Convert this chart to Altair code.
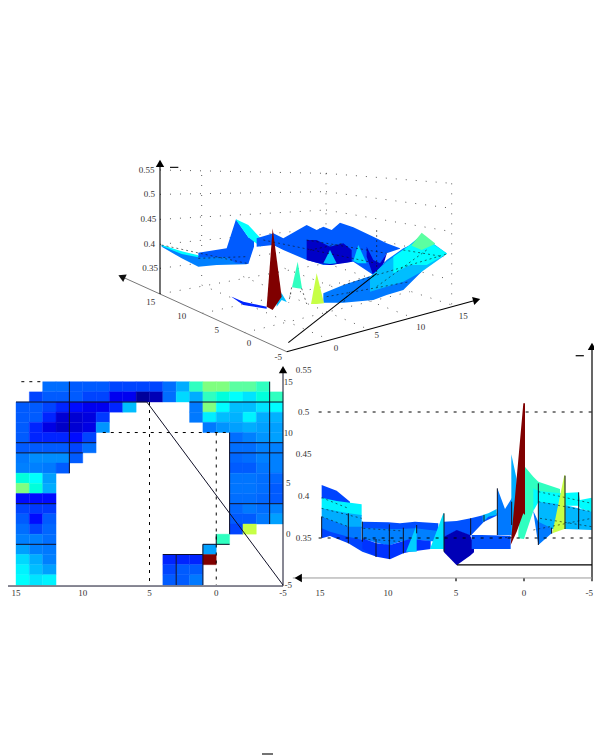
import altair as alt
import pandas as pd

N = None
# z values (x 100) of the map, rows y=15..-5, columns x=15..-5
grid = [
 [N,N,37.5,37.5,37,37,37,36.5,36.5,36.5,36.5,37.5,38.7,41.5,42.5,42.5,42,42,41.5,N],
 [N,36.5,37,37,37,36.5,36.5,35.5,35.5,34,34.5,37.5,39.5,38.7,41.5,41,40.3,39.7,41,41.5],
 [37,37,36.5,36,35.8,35.5,35.5,36,39,N,N,N,N,37.8,42.5,40.2,39,39,39.7,40.2],
 [37,37,36,35,35,35.2,36.3,N,N,N,N,N,N,37.8,39.9,39,38.8,40,38.7,38.8],
 [37,36,35.3,34.8,35,35.3,38.3,N,N,N,N,N,N,N,37.8,38.3,38.5,38.7,38.5,38.5],
 [37,36,36,36,35.8,36.5,N,N,N,N,N,N,N,N,N,N,37.5,38,38.3,38.5],
 [37,37,37,37,36.5,37.5,N,N,N,N,N,N,N,N,N,N,37.5,37.5,38,38],
 [37.8,38.2,38.2,38.2,37,N,N,N,N,N,N,N,N,N,N,N,37.3,37.5,38,38],
 [38,38,37.8,37,N,N,N,N,N,N,N,N,N,N,N,N,37,37,37.7,38],
 [41,40.3,38.5,N,N,N,N,N,N,N,N,N,N,N,N,N,37.7,37.7,37.5,37.3],
 [42.5,41,38.7,N,N,N,N,N,N,N,N,N,N,N,N,N,37.7,37.7,37.5,37],
 [35.8,35.8,35.8,N,N,N,N,N,N,N,N,N,N,N,N,N,37.5,37.5,37.3,37],
 [36.5,36.3,36.3,N,N,N,N,N,N,N,N,N,N,N,N,N,37.3,37.8,37.5,38],
 [37,35.8,37,N,N,N,N,N,N,N,N,N,N,N,N,N,37,37,37.8,38.5],
 [37.5,36.5,37.3,N,N,N,N,N,N,N,N,N,N,N,N,N,36.5,43.8,N,N],
 [38,38,37.5,N,N,N,N,N,N,N,N,N,N,N,N,41.5,N,N,N,N],
 [38.5,38,37.8,N,N,N,N,N,N,N,N,N,N,N,38.5,N,N,N,N,N],
 [39.5,38.7,38,N,N,N,N,N,N,N,N,36,36,36,51.5,N,N,N,N,N],
 [40,39,38.5,N,N,N,N,N,N,N,N,36.5,37,37,N,N,N,N,N,N],
 [40.3,39.7,40,N,N,N,N,N,N,N,N,37,37,37.8,N,N,N,N,N,N],
]
map_solid = [(15,13,5.2,13),(2,13,-5,13),(15,9,9,9),(-1,9,-5,9),(15,8,10,8),(-1,8,-5,8),(15,3,12,3),(-1,3,-5,3),
             (15,-1,12,-1),(1,-1,-1,-1),(11,15,11,6),(-1,10,-1,0),(-4,15,-4,1),(3,-2,3,-5),(1,-1,1,-5),(4,-2,1,-2),
             (0,-1,0,0),(5.2,13,-5,-5),(-5,-5.1,15.9,-5.1),(-5,-5.1,-5,16)]
map_dash = [(5,13,5,-5),(0,10,0,-5),(8.5,10,-1,10),(14.6,15,13,15)]
map_x_labels = [(15,"15"),(10,"10"),(5,"5"),(0,"0"),(-5,"-5")]
map_y_labels = [(15,"15"),(10,"10"),(5,"5"),(0,"0"),(-5,"-5")]

# side view: facets in projected units (z, [(u, top, bottom), ...])
side_facets = [
 (36.5,[(65,420,462),(110,437,470),(150,470,478)]),
 (40,[(65,458,492),(110,468,507),(185,478,512)]),
 (38.7,[(65,490,522),(145,505,548),(185,510,550)]),
 (37.8,[(65,515,555),(145,545,582),(185,545,592)]),
 (36.5,[(65,550,580),(90,560,573),(145,575,595),(187,585,620),(230,600,635)]),
 (36.7,[(187,530,552),(265,532,555),(300,535,555),(345,530,552),(415,535,560)]),
 (38,[(187,548,582),(265,552,602),(300,552,590),(345,550,585),(415,558,590)]),
 (36.2,[(187,580,612),(230,595,635),(270,600,643),(310,588,625),(330,582,620),(392,588,612)]),
 (39.3,[(318,620,620),(350,540,620),(336,575,620)]),
 (39.7,[(390,612,612),(430,505,612),(432,505,620)]),
 (36.8,[(432,530,577),(470,528,557),(512,520,572),(552,510,530),(590,505,512)]),
 (39,[(548,510,532),(565,505,515),(590,492,510)]),
 (34.5,[(432,575,622),(470,555,661),(510,570,632),(522,600,622)]),
 (36.8,[(515,570,612),(545,570,612),(632,572,612)]),
 (37.8,[(592,430,570),(615,492,570),(636,458,570)]),
 (38.7,[(634,328,578),(650,402,512)]),
 (41.5,[(655,560,580),(672,362,582),(700,395,498),(715,410,440),(780,432,455)]),
 (40.2,[(700,430,498),(715,438,472),(780,445,482),(836,442,482),(840,465,490),(875,458,502)]),
 (38.9,[(715,470,542),(755,475,552),(795,480,552),(875,500,555)]),
 (37.8,[(700,498,500),(715,530,600),(755,550,565)]),
 (51.5,[(632,600,600),(650,400,560),(670,175,505),(675,175,510)]),
 (43.8,[(757,565,565),(793,390,552),(796,392,550)]),
]
side_solid = [(65,515,65,578),(145,505,145,595),(187,530,187,590),(228,582,228,636),(268,538,268,642),(310,548,310,625),
              (350,540,350,565),(432,505,432,620),(512,520,512,570),(552,510,552,530),(592,430,592,570),(635,470,635,540),
              (715,415,715,600),(755,548,755,566),(795,392,795,552),(836,442,836,552)]
side_mesh = [(65,515,145,545),(65,490,185,520),(65,458,145,490),(190,582,310,590),(190,550,310,558),(715,470,875,500),(715,440,875,475),
             (700,555,875,520),(720,520,875,545),(600,578,640,578)]
side_solid_axis = [(-5,0.3024,-5,0.574),(-5,0.318,4.93,0.318),(-4.4,0.567,-3.8,0.567),(5,0.3024,5,0.2985),(0,0.3024,0,0.2985),(-5,0.3024,-5,0.2985)]
side_gray_axis = [(-5,0.3024,17,0.3024)]
side_dash_axis = [(15.1,0.5,-5,0.5),(15.1,0.35,-5,0.35)]
side_x_labels = [(15,"15"),(10,"10"),(5,"5"),(0,"0"),(-4.8,"-5")]
side_z_labels = [(0.55,"0.55"),(0.5,"0.5"),(0.45,"0.45"),(0.4,"0.4"),(0.35,"0.35")]

# 3-D view: facets in projected units
top_facets = [
 (38,[(155,285,290),(215,306,325),(265,318,350),(320,315,345),(410,320,343)]),
 (40.2,[(155,285,288),(215,304,312),(265,316,322)]),
 (37,[(265,308,322),(350,295,322),(378,208,340),(415,262,342),(432,270,290)]),
 (40.2,[(378,208,210),(415,225,262),(452,265,290)]),
 (37,[(440,265,290),(490,250,285),(520,265,300),(590,225,330),(620,240,338),(640,230,345),(665,240,345),(690,218,340),(730,232,335),(790,260,375),(830,280,310),(870,295,296)]),
 (34.8,[(590,270,330),(620,270,338),(660,290,345),(700,280,340),(725,300,335)]),
 (39,[(640,340,340),(660,300,342),(680,340,340)]),
 (39.5,[(730,333,333),(745,285,340),(770,340,340)]),
 (34.8,[(770,290,320),(790,330,378),(810,340,375),(830,310,312)]),
 (37.8,[(640,430,458),(700,405,458),(790,375,450),(830,330,435),(880,295,420),(935,270,365)]),
 (39,[(780,380,425),(830,335,410),(880,300,395),(935,255,365),(1010,310,312)]),
 (40.2,[(850,320,370),(900,285,345),(950,270,345),(1010,310,312)]),
 (42,[(905,285,287),(935,248,300),(975,280,282)]),
 (36,[(365,440,441),(400,455,465),(470,470,476)]),
 (39,[(500,440,470),(515,430,450),(530,455,456)]),
 (51.5,[(470,470,470),(488,235,480),(515,440,440)]),
 (41.5,[(546,412,412),(563,335,415),(576,415,416)]),
 (43.8,[(603,462,462),(620,370,462),(642,460,460)]),
]
top_mesh = [(155,285,410,340),(265,325,410,320),(460,270,800,340),(590,270,830,310),(700,405,1010,312),(800,410,950,300),
            (650,440,900,395),(720,425,700,458),(800,240,800,370),(880,300,1000,320),(545,412,536,458),(575,415,590,462),(600,300,700,280)]
top_grid = [(275,75,275,405),(648,70,648,340),(1025,100,1025,465),(150,60,648,70),(150,133,648,125),(150,208,648,180),
            (150,283,648,235),(150,355,648,290),(648,70,1025,100),(648,125,1025,175),(648,180,1025,245),(648,235,1025,320),
            (648,290,1025,390),(150,432,648,340),(648,340,1025,465),(275,405,660,570),(400,380,780,540),(524,355,900,500),
            (277,490,775,380),(403,548,900,425)]
top_black = [(150,432,150,40),(530,605,1100,450),(535,578,800,370),(180,52,205,52),(456,1812,489,1812)]
top_gray = [(150,432,35,380),(150,432,530,605)]
top_labels = [(110,60,"0.55"),(118,133,"0.5"),(115,207,"0.45"),(118,283,"0.4"),(120,355,"0.35"),(122,455,"15"),(215,498,"10"),
              (320,540,"5"),(417,580,"0"),(505,620,"-5"),(678,593,"0"),(800,555,"5"),(932,530,"10"),(1060,497,"15")]
jet_z = [33.5,35.75,38,40.25,42.5,44.75,47,49.25,51.5]
jet_c = ["#000080","#0000ff","#0080ff","#00ffff","#80ff80","#ffff00","#ff8000","#ff0000","#800000"]

W, H = 586, 747
L, T = 8, 8
color_scale = alt.Scale(domain=jet_z, range=jet_c, clamp=True)


def domain(v0, p0, v1, p1, lo, hi):
    k = (v1 - v0) / (p1 - p0)
    return [v0 + (lo - p0) * k, v0 + (hi - p0) * k]


def scales(xcal, ycal):
    return (alt.Scale(domain=domain(*xcal, L, L + W), nice=False, zero=False),
            alt.Scale(domain=domain(*ycal, T + H, T), nice=False, zero=False))


MAP = scales((-5, 283, 15, 16), (-5, 585, 15, 381.7))
SIDE_AX = scales((-5, 592, 15, 320), (0.5, 412, 0.35, 538))
SIDE = scales((0, 300, 900, 600), (0, 345, 780, 605))
TOP = scales((0, 110, 1140, 490), (0, 150, 630, 360))


def X(f, s): return alt.X(f, type="quantitative", scale=s, axis=None)
def Y(f, s): return alt.Y(f, type="quantitative", scale=s, axis=None)


def rules(rows, sc, color="black", width=1.0, dash=None, opacity=1.0):
    df = pd.DataFrame(rows, columns=["a", "b", "c", "d"])
    kw = dict(color=color, strokeWidth=width, opacity=opacity)
    if dash:
        kw["strokeDash"] = dash
    return alt.Chart(df).mark_rule(**kw).encode(x=X("a", sc[0]), y=Y("b", sc[1]), x2="c", y2="d")


def facets(fs, sc):
    rows = []
    for i, (z, pts) in enumerate(fs):
        for u, t, b in pts:
            rows.append(dict(id=i, z=z, u=u, t=t, b=b))
    out = []
    for i in range(len(fs)):
        df = pd.DataFrame([r for r in rows if r["id"] == i])
        out.append(alt.Chart(df).mark_area(opacity=1, interpolate="linear").encode(
            x=X("u", sc[0]), y=Y("t", sc[1]), y2="b",
            color=alt.Color("z:Q", scale=color_scale, legend=None)))
    return out


def labels(rows, sc, **kw):
    df = pd.DataFrame(rows, columns=["a", "b", "s"])
    opts = dict(font="Liberation Serif", fontSize=9, color="#333333", align="center", baseline="middle")
    opts.update(kw)
    return alt.Chart(df).mark_text(**opts).encode(x=X("a", sc[0]), y=Y("b", sc[1]), text="s:N")


def arrow(x, y, sc, angle=0, size=70, color="black", shape="triangle-up"):
    df = pd.DataFrame([dict(a=x, b=y)])
    return alt.Chart(df).mark_point(shape=shape, filled=True, size=size, color=color, opacity=1, angle=angle).encode(
        x=X("a", sc[0]), y=Y("b", sc[1]))


cells = []
for j, row in enumerate(grid):
    for i, z in enumerate(row):
        if z is not None:
            cells.append(dict(x0=15 - i, x1=14 - i, y0=15 - j, y1=14 - j, z=z))
heat = alt.Chart(pd.DataFrame(cells)).mark_rect(strokeWidth=0.4).encode(
    x=X("x0", MAP[0]), x2="x1", y=Y("y0", MAP[1]), y2="y1",
    color=alt.Color("z:Q", scale=color_scale, legend=None),
    stroke=alt.Stroke("z:Q", scale=color_scale, legend=None))

layers = [
    rules(top_grid, TOP, color="#333333", width=0.8, dash=[1, 9]),
    *facets(top_facets, TOP),
    rules(top_mesh, TOP, color="#111111", width=0.6, dash=[2, 3]),
    rules(top_gray, TOP, color="#777777", width=1),
    rules(top_black, TOP, color="black", width=1.1),
    arrow(150, 40, TOP), arrow(35, 380, TOP, angle=295, color="#111111"), arrow(1100, 450, TOP, angle=75),
    labels(top_labels, TOP),
    heat,
    rules(map_solid, MAP, width=1.0, color="#101028"),
    rules(map_dash, MAP, dash=[3, 5], width=1),
    arrow(-5, 16.2, MAP), arrow(16, -5.1, MAP, angle=270),
    labels([(v, -5.75, s) for v, s in map_x_labels], MAP),
    labels([(-5.4, v, s) for v, s in map_y_labels], MAP),
    *facets(side_facets, SIDE),
    rules(side_solid, SIDE, width=1, color="#101020"),
    rules(side_mesh, SIDE, width=0.6, color="#111111", dash=[2, 3]),
    rules(side_solid_axis, SIDE_AX, width=1.2),
    rules(side_gray_axis, SIDE_AX, width=1, color="#999999"),
    rules(side_dash_axis, SIDE_AX, width=1, dash=[3, 6]),
    arrow(-5, 0.578, SIDE_AX), arrow(16.6, 0.3024, SIDE_AX, angle=270),
    labels([(v, 0.2845, s) for v, s in side_x_labels], SIDE_AX),
    labels([(16.2, v, s) for v, s in side_z_labels], SIDE_AX),
]

chart = alt.layer(*layers).resolve_scale(x="independent", y="independent").properties(
    width=W, height=H, padding=0, background="white", autosize=alt.AutoSizeParams(type="none")
).configure_view(stroke=None, strokeWidth=0)
chart.save("out.html", embed_options={"renderer": "svg", "actions": False})
